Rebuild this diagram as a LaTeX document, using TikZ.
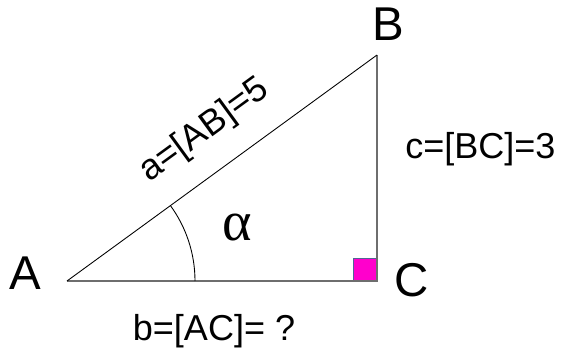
\documentclass[tikz,border=0pt]{standalone}
\usepackage{fontspec}
\setmainfont{Liberation Sans}
\newfontfamily\greekfont{Liberation Serif}
\usetikzlibrary{calc,positioning}
\definecolor{legray}{RGB}{110,110,110}
\definecolor{rightmag}{RGB}{255,0,204}
\definecolor{rightedge}{RGB}{80,100,150}

\begin{document}
\begin{tikzpicture}[x=0.02cm,y=-0.02cm]
  \tikzset{
    leg/.style={draw=legray,line width=0.9pt},
    hyp/.style={draw=black,line width=0.5pt},
    vlab/.style={inner sep=0pt,font=\fontsize{27}{31}\selectfont},
    slab/.style={inner sep=0pt,font=\fontsize{20.5}{24}\selectfont}
  }
  \useasboundingbox (0,0) rectangle (562,352);
  \coordinate (A) at (67,281);
  \coordinate (B) at (377,55);
  \coordinate (C) at (377,281);
  % right angle mark
  \filldraw[fill=rightmag,draw=rightedge,line width=0.4pt] (353,258) rectangle (C);
  \draw[leg] (A) -- (C) -- (B);
  \draw[hyp] (A) -- (B);
  \draw[hyp] ($(A)+(128,0)$) arc[start angle=0,end angle=-36.1,radius=128];
  % vertices
  \node[vlab] (lA) at (25,273) {A};
  \node[vlab] (lB) at (388,24) {B};
  \node[vlab] (lC) at (412,280) {C};
  % sides and angle
  \node[slab,anchor=base,rotate=36.1] (la) at (210,138) {a=[AB]=5};
  \node[slab,anchor=base west] (lc) at (405,158) {c=[BC]=3};
  \node[slab,anchor=base] (lb) at (214,340) {b=[AC]= ?};
  \node[inner sep=0pt,font=\greekfont\fontsize{32}{36}\selectfont] (alpha) at (237,228) {α};
\end{tikzpicture}
\end{document}
